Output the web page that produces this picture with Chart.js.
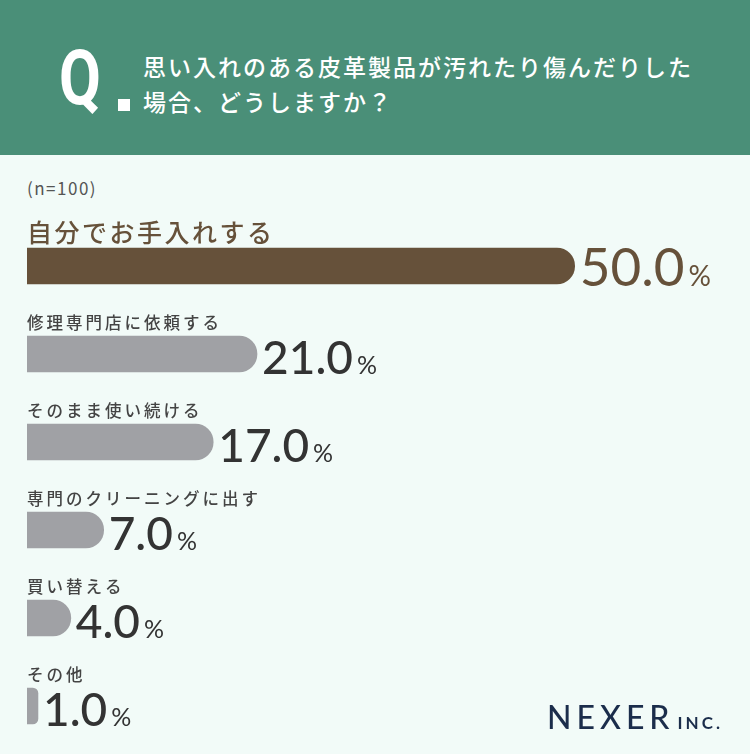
<!DOCTYPE html>
<html lang="ja">
<head>
<meta charset="utf-8">
<script src="https://cdn.jsdelivr.net/npm/chart.js@4.4.1/dist/chart.umd.min.js"></script>
<style>
  html, body { margin: 0; padding: 0; }
  body { width: 750px; height: 754px; background: #f2fbf8; position: relative; overflow: hidden; font-family: "Noto Sans CJK JP", sans-serif; }
  .header { position: absolute; left: 0; top: 0; width: 750px; height: 155px; background: #4a8f78; color: #fff; }
  .q { position: absolute; left: 59px; top: 40px; font-family: "Roboto", sans-serif; font-size: 76px; font-weight: 700; line-height: 1; transform: scaleX(0.8); transform-origin: left; }
  .qdot { position: absolute; left: 118px; top: 99px; width: 12px; height: 12px; background: #fff; }
  .title { position: absolute; left: 143px; top: 49px; font-size: 23px; font-weight: 500; line-height: 35px; letter-spacing: 2px; }
  .n { position: absolute; left: 27px; top: 175px; font-size: 17px; color: #555; letter-spacing: 1.5px; }
  .chart-box { position: absolute; left: 0; top: 155px; width: 750px; height: 599px; }
  .logo { position: absolute; left: 547px; top: 697px; color: #1b2d4b; font-family: "Lato", sans-serif; white-space: nowrap; }
  .logo .main { font-size: 32px; letter-spacing: 5px; font-weight: 500; }
  .logo .inc { font-size: 17px; letter-spacing: 3px; font-weight: 700; margin-left: 3px; }
</style>
</head>
<body>
<div class="header">
  <div class="q">Q</div>
  <div class="qdot"></div>
  <div class="title">思い入れのある皮革製品が汚れたり傷んだりした<br>場合、どうしますか？</div>
</div>
<div class="n">(n=100)</div>
<div class="chart-box"><canvas id="barChart"></canvas></div>
<div class="logo"><span class="main">NEXER</span><span class="inc">INC.</span></div>

<script>
const categories = ['自分でお手入れする', '修理専門店に依頼する', 'そのまま使い続ける', '専門のクリーニングに出す', '買い替える', 'その他'];
const values = [50.0, 21.0, 17.0, 7.0, 4.0, 1.0];
const barColors = ['#66513a', '#a0a1a5', '#a0a1a5', '#a0a1a5', '#a0a1a5', '#a0a1a5'];

// labels above each bar + value text right of it
const labelPlugin = {
    id: 'barLabels',
    afterDatasetsDraw(chart) {
        const ctx = chart.ctx;
        const meta = chart.getDatasetMeta(0);
        meta.data.forEach((bar, i) => {
            const top = bar.y - bar.height / 2;
            const bottom = bar.y + bar.height / 2;
            const first = i === 0;
            ctx.save();
            ctx.textBaseline = 'alphabetic';
            ctx.textAlign = 'left';
            // category label
            ctx.fillStyle = first ? '#66513a' : '#444';
            ctx.letterSpacing = first ? '2.5px' : '3px';
            ctx.font = (first ? '500 25px' : '500 16.5px') + ' "Noto Sans CJK JP"';
            ctx.fillText(categories[i], chart.chartArea.left, top - (first ? 6 : 7));
            // value
            ctx.letterSpacing = '0px';
            ctx.fillStyle = first ? '#66513a' : '#333';
            ctx.font = (first ? '400 53px' : '500 46px') + ' Lato';
            const num = values[i].toFixed(1);
            const x = bar.x + 5;
            ctx.fillText(num, x, bottom + 2);
            const w = ctx.measureText(num).width;
            ctx.font = (first ? '400 28px' : '400 25px') + ' Lato';
            ctx.fillText('%', x + w + 4, bottom + 2);
            ctx.restore();
        });
    }
};

document.addEventListener('DOMContentLoaded', () => {
    const ctx = document.getElementById('barChart').getContext('2d');
    new Chart(ctx, {
        type: 'bar',
        data: {
            labels: categories,
            datasets: [{
                data: values,
                backgroundColor: barColors,
                barThickness: 36,
                borderRadius: { topLeft: 0, bottomLeft: 0, topRight: 18, bottomRight: 18 },
                borderSkipped: false
            }]
        },
        options: {
            indexAxis: 'y',
            responsive: true,
            maintainAspectRatio: false,
            animation: false,
            layout: { padding: { left: 27, right: 22, top: 67, bottom: 4 } },
            plugins: {
                legend: { display: false },
                tooltip: { enabled: false }
            },
            scales: {
                x: { display: false, min: 0, max: 64 },
                y: { display: false }
            }
        },
        plugins: [labelPlugin]
    });
});
</script>
</body>
</html>
